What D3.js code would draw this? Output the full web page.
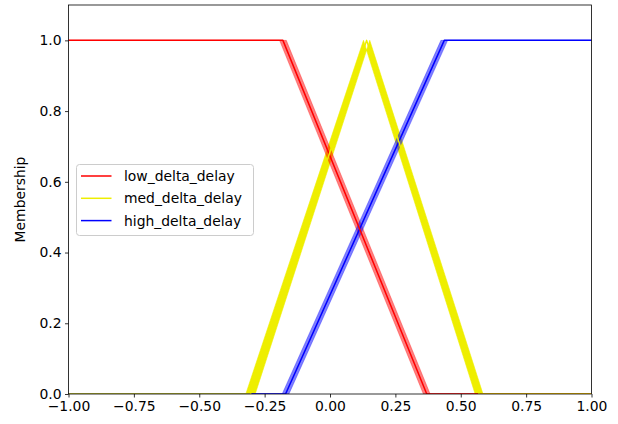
<!DOCTYPE html>
<html><head><meta charset="utf-8">
<script src="https://cdn.jsdelivr.net/npm/d3@7"></script>
<style>body{margin:0;background:#fff}svg{display:block}text{font-family:"DejaVu Sans",sans-serif}</style>
</head><body>
<svg id="chart" width="618" height="424"></svg>
<script>
// ---- data ----
const xTicks = [-1, -0.75, -0.5, -0.25, 0, 0.25, 0.5, 0.75, 1];
const yTicks = [0, 0.2, 0.4, 0.6, 0.8, 1.0];
const setNames = ["low_delta_delay", "med_delta_delay", "high_delta_delay"];
// membership breakpoints [x, membership]
const lowCenter = [[-1,1],[-0.18,1],[0.37,0],[1,0]];
const lowLeft   = [[-1,1],[-0.193,1],[0.357,0],[1,0]];
const lowRight  = [[-1,1],[-0.167,1],[0.383,0],[1,0]];
const medCenter = [[-1,0],[-0.304,0],[0.14,1],[0.57,0],[1,0]];
const medLeft   = [[-1,0],[-0.322,0],[0.128,1],[0.555,0],[1,0]];
const medRight  = [[-1,0],[-0.286,0],[0.152,1],[0.585,0],[1,0]];
const highCenter = [[-1,0],[-0.17,0],[0.437,1],[1,1]];
const highLeft   = [[-1,0],[-0.183,0],[0.424,1],[1,1]];
const highRight  = [[-1,0],[-0.157,0],[0.45,1],[1,1]];

// ---- styles ----
const colors = ["#ff0000", "#eeee00", "#0000ff"];
const fillOpacity = [0.5, 1, 0.5];
const sets = [
  {name: setNames[0], c: lowCenter, l: lowLeft, r: lowRight, i: 0},
  {name: setNames[1], c: medCenter, l: medLeft, r: medRight, i: 1},
  {name: setNames[2], c: highCenter, l: highLeft, r: highRight, i: 2}
];

const svg = d3.select("#chart");
const m = {left: 68.5, right: 591.5, top: 5, bottom: 394};
const x = d3.scaleLinear().domain([-1, 1]).range([m.left, m.right]);
const y = d3.scaleLinear().domain([0, 1.1]).range([m.bottom, m.top]);

svg.append("defs").append("clipPath").attr("id", "clip")
  .append("rect").attr("x", m.left).attr("y", m.top)
  .attr("width", m.right - m.left).attr("height", m.bottom - m.top);

const plot = svg.append("g").attr("clip-path", "url(#clip)");
const line = d3.line().x(d => x(d[0])).y(d => y(d[1]));

// fills (bands): yellow first, then red, then blue
[1, 0, 2].forEach(k => {
  const s = sets[k];
  const poly = s.l.concat(s.r.slice().reverse());
  plot.append("path")
    .attr("d", line(poly) + "Z")
    .attr("fill", colors[k]).attr("fill-opacity", fillOpacity[k])
    .attr("stroke", colors[k]).attr("stroke-opacity", fillOpacity[k] * 0.6)
    .attr("stroke-width", 1);
});
// center lines
[2, 0, 1].forEach(k => {
  plot.append("path")
    .attr("d", line(sets[k].c))
    .attr("fill", "none").attr("stroke", colors[k])
    .attr("stroke-width", 1.5).attr("stroke-linejoin", "round");
});

// axes
const fs = 13.9;
const xAxis = svg.append("g").attr("transform", `translate(0,${m.bottom})`)
  .call(d3.axisBottom(x).tickValues(xTicks).tickFormat(d3.format(".2f"))
    .tickSize(3.5).tickPadding(3.5));
const yAxis = svg.append("g").attr("transform", `translate(${m.left},0)`)
  .call(d3.axisLeft(y).tickValues(yTicks).tickFormat(d3.format(".1f"))
    .tickSize(3.5).tickPadding(3.5));
[xAxis, yAxis].forEach(g => {
  g.select(".domain").remove();
  g.selectAll(".tick line").attr("stroke", "#000").attr("stroke-width", 0.8);
  g.selectAll(".tick text").attr("fill", "#000").style("font-size", fs + "px")
    .style("font-family", "'DejaVu Sans', sans-serif");
});

// frame
svg.append("rect").attr("x", m.left).attr("y", m.top)
  .attr("width", m.right - m.left).attr("height", m.bottom - m.top)
  .attr("fill", "none").attr("stroke", "#000").attr("stroke-width", 0.8);

svg.append("text").attr("transform", `translate(24.5,${(m.top + m.bottom) / 2}) rotate(-90)`)
  .attr("text-anchor", "middle").style("font-size", fs + "px").text("Membership");

// legend
const lg = svg.append("g").attr("transform", "translate(76.5,164.5)");
lg.append("rect").attr("width", 177).attr("height", 71).attr("rx", 3)
  .attr("fill", "#fff").attr("fill-opacity", 0.8)
  .attr("stroke", "#cccccc").attr("stroke-width", 1);
setNames.forEach((n, k) => {
  const yy = 11.5 + k * 22.3;
  lg.append("line").attr("x1", 4.5).attr("x2", 35).attr("y1", yy).attr("y2", yy)
    .attr("stroke", colors[k]).attr("stroke-width", 1.5);
  lg.append("text").attr("x", 47.5).attr("y", yy).attr("dy", "0.36em")
    .style("font-size", fs + "px").text(n);
});
</script>
</body></html>
